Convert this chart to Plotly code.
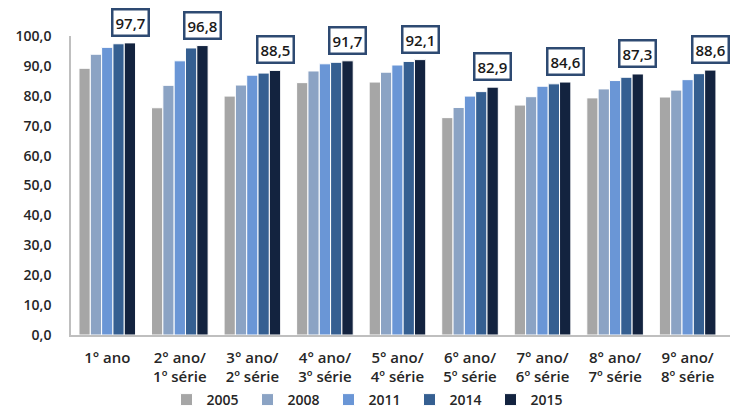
import plotly.graph_objects as go

categories = ["1° ano", "2° ano/<br>1º série", "3° ano/<br>2º série", "4° ano/<br>3º série",
              "5° ano/<br>4º série", "6° ano/<br>5º série", "7° ano/<br>6º série",
              "8° ano/<br>7º série", "9° ano/<br>8º série"]
years = ["2005", "2008", "2011", "2014", "2015"]
v2005 = [89.2, 76.0, 79.9, 84.4, 84.6, 72.7, 76.9, 79.3, 79.6]
v2008 = [93.9, 83.5, 83.6, 88.3, 87.9, 76.1, 79.7, 82.3, 81.9]
v2011 = [96.2, 91.7, 86.9, 90.7, 90.3, 79.9, 83.2, 85.1, 85.4]
v2014 = [97.4, 96.0, 87.6, 91.2, 91.5, 81.4, 84.0, 86.2, 87.4]
v2015 = [97.7, 96.8, 88.5, 91.7, 92.1, 82.9, 84.6, 87.3, 88.6]
series = [v2005, v2008, v2011, v2014, v2015]
colors = ["#A6A6A6", "#8BA3C4", "#6A96D6", "#355F91", "#13233F"]

FONT = "Open Sans, Arial"
TXT = "#262626"
W, H = 738, 408
ML, MR, MT, MB = 71, 8, 36, 73
BARGAP = 0.22

fig = go.Figure()
for name, vals, col in zip(years, series, colors):
    fig.add_trace(go.Bar(
        x=categories, y=vals, name=name,
        marker=dict(color=col, line=dict(color="white", width=1)),
        cliponaxis=False,
    ))

# offset of the last (2015) bar centre from the category centre, in pixels
cat_px = (W - ML - MR) / len(categories)
bar_px = cat_px * (1 - BARGAP) / len(years)
last_off = bar_px * (len(years) - 1) / 2

for cat, val in zip(categories, v2015):
    fig.add_annotation(
        x=cat, y=val, xref="x", yref="y",
        text=f"{val:.1f}".replace(".", ","),
        showarrow=False, yanchor="bottom", yshift=6, xshift=last_off,
        font=dict(family=FONT, size=15, color="#1a1a1a", weight=600),
        bordercolor="#2E4A72", borderwidth=2.5, borderpad=2,
        bgcolor="white",
    )

plot_h = H - MT - MB
fig.update_layout(
    width=W, height=H,
    margin=dict(l=ML, r=MR, t=MT, b=MB, autoexpand=False),
    paper_bgcolor="white", plot_bgcolor="white",
    barmode="group", bargap=BARGAP, bargroupgap=0.0,
    separators=",.",
    font=dict(family=FONT, size=14, color=TXT, weight=600),
    legend=dict(orientation="h", x=0.5, xanchor="center", xref="container",
                y=-(400 - (H - MB)) / plot_h, yanchor="middle", yref="paper",
                bgcolor="rgba(0,0,0,0)",
                font=dict(family=FONT, size=14, color=TXT, weight=600),
                itemwidth=30, entrywidth=36, traceorder="normal"),
    showlegend=True,
)
fig.update_xaxes(showline=True, linecolor="#BFBFBF", linewidth=1.5, ticks="",
                 showgrid=False, automargin=False, ticklabelstandoff=8,
                 tickfont=dict(family=FONT, size=15, color=TXT, weight=600))
fig.update_yaxes(range=[0, 100], dtick=10, tickformat=".1f",
                 showline=True, linecolor="#BFBFBF", linewidth=1.5, showgrid=False,
                 ticks="", zeroline=False, automargin=False, ticklabelstandoff=15,
                 tickfont=dict(family=FONT, size=14, color=TXT, weight=600))
fig.write_html("out.html")
